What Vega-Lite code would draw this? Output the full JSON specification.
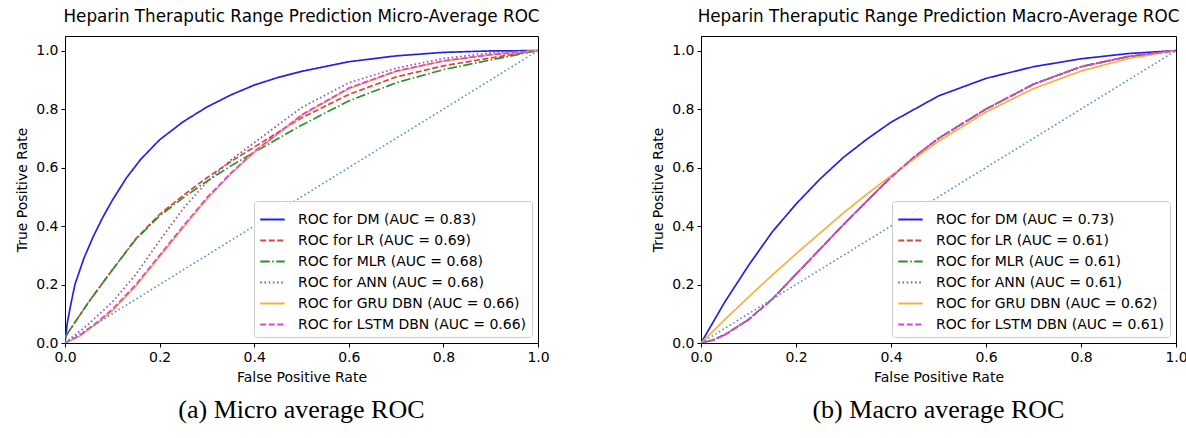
{
  "$schema": "https://vega.github.io/schema/vega-lite/v6.json",
  "background": "white",
  "padding": {"left": 15, "top": 8, "right": 0, "bottom": 4},
  "datasets": {
    "micro": [
      {"m":"DM","x":0,"y":0},{"m":"DM","x":0.005,"y":0.07},{"m":"DM","x":0.012,"y":0.13},{"m":"DM","x":0.021,"y":0.2},{"m":"DM","x":0.04,"y":0.29},{"m":"DM","x":0.06,"y":0.365},{"m":"DM","x":0.08,"y":0.43},{"m":"DM","x":0.1,"y":0.488},{"m":"DM","x":0.13,"y":0.565},{"m":"DM","x":0.16,"y":0.628},{"m":"DM","x":0.2,"y":0.695},{"m":"DM","x":0.25,"y":0.757},{"m":"DM","x":0.3,"y":0.807},{"m":"DM","x":0.35,"y":0.848},{"m":"DM","x":0.4,"y":0.882},{"m":"DM","x":0.45,"y":0.908},{"m":"DM","x":0.5,"y":0.929},{"m":"DM","x":0.6,"y":0.962},{"m":"DM","x":0.7,"y":0.982},{"m":"DM","x":0.8,"y":0.994},{"m":"DM","x":0.9,"y":0.999},{"m":"DM","x":1,"y":1},
      {"m":"LR","x":0,"y":0.02},{"m":"LR","x":0.05,"y":0.14},{"m":"LR","x":0.1,"y":0.25},{"m":"LR","x":0.15,"y":0.357},{"m":"LR","x":0.2,"y":0.44},{"m":"LR","x":0.25,"y":0.505},{"m":"LR","x":0.3,"y":0.565},{"m":"LR","x":0.35,"y":0.62},{"m":"LR","x":0.4,"y":0.67},{"m":"LR","x":0.5,"y":0.77},{"m":"LR","x":0.6,"y":0.85},{"m":"LR","x":0.7,"y":0.91},{"m":"LR","x":0.8,"y":0.948},{"m":"LR","x":0.9,"y":0.975},{"m":"LR","x":1,"y":1},
      {"m":"MLR","x":0,"y":0.02},{"m":"MLR","x":0.05,"y":0.14},{"m":"MLR","x":0.1,"y":0.25},{"m":"MLR","x":0.15,"y":0.355},{"m":"MLR","x":0.2,"y":0.435},{"m":"MLR","x":0.25,"y":0.497},{"m":"MLR","x":0.3,"y":0.553},{"m":"MLR","x":0.35,"y":0.605},{"m":"MLR","x":0.4,"y":0.652},{"m":"MLR","x":0.5,"y":0.745},{"m":"MLR","x":0.6,"y":0.828},{"m":"MLR","x":0.7,"y":0.89},{"m":"MLR","x":0.8,"y":0.935},{"m":"MLR","x":0.9,"y":0.968},{"m":"MLR","x":1,"y":1},
      {"m":"ANN","x":0,"y":0},{"m":"ANN","x":0.05,"y":0.065},{"m":"ANN","x":0.1,"y":0.14},{"m":"ANN","x":0.15,"y":0.235},{"m":"ANN","x":0.2,"y":0.35},{"m":"ANN","x":0.25,"y":0.46},{"m":"ANN","x":0.3,"y":0.55},{"m":"ANN","x":0.35,"y":0.625},{"m":"ANN","x":0.4,"y":0.685},{"m":"ANN","x":0.5,"y":0.805},{"m":"ANN","x":0.6,"y":0.89},{"m":"ANN","x":0.7,"y":0.94},{"m":"ANN","x":0.8,"y":0.973},{"m":"ANN","x":0.9,"y":0.992},{"m":"ANN","x":1,"y":1},
      {"m":"GRU","x":0,"y":0},{"m":"GRU","x":0.03,"y":0.022},{"m":"GRU","x":0.067,"y":0.066},{"m":"GRU","x":0.1,"y":0.11},{"m":"GRU","x":0.15,"y":0.195},{"m":"GRU","x":0.2,"y":0.295},{"m":"GRU","x":0.25,"y":0.395},{"m":"GRU","x":0.3,"y":0.492},{"m":"GRU","x":0.35,"y":0.577},{"m":"GRU","x":0.4,"y":0.652},{"m":"GRU","x":0.5,"y":0.778},{"m":"GRU","x":0.6,"y":0.87},{"m":"GRU","x":0.7,"y":0.929},{"m":"GRU","x":0.8,"y":0.964},{"m":"GRU","x":0.9,"y":0.986},{"m":"GRU","x":1,"y":1},
      {"m":"LSTM","x":0,"y":0},{"m":"LSTM","x":0.03,"y":0.025},{"m":"LSTM","x":0.067,"y":0.07},{"m":"LSTM","x":0.1,"y":0.115},{"m":"LSTM","x":0.15,"y":0.2},{"m":"LSTM","x":0.2,"y":0.3},{"m":"LSTM","x":0.25,"y":0.4},{"m":"LSTM","x":0.3,"y":0.497},{"m":"LSTM","x":0.35,"y":0.58},{"m":"LSTM","x":0.4,"y":0.655},{"m":"LSTM","x":0.5,"y":0.78},{"m":"LSTM","x":0.6,"y":0.872},{"m":"LSTM","x":0.7,"y":0.93},{"m":"LSTM","x":0.8,"y":0.965},{"m":"LSTM","x":0.9,"y":0.986},{"m":"LSTM","x":1,"y":1}
    ],
    "macro": [
      {"m":"DM","x":0,"y":0},{"m":"DM","x":0.05,"y":0.14},{"m":"DM","x":0.1,"y":0.265},{"m":"DM","x":0.15,"y":0.38},{"m":"DM","x":0.2,"y":0.475},{"m":"DM","x":0.25,"y":0.56},{"m":"DM","x":0.3,"y":0.635},{"m":"DM","x":0.35,"y":0.698},{"m":"DM","x":0.4,"y":0.755},{"m":"DM","x":0.5,"y":0.845},{"m":"DM","x":0.6,"y":0.905},{"m":"DM","x":0.7,"y":0.945},{"m":"DM","x":0.8,"y":0.972},{"m":"DM","x":0.9,"y":0.99},{"m":"DM","x":1,"y":1},
      {"m":"LR","x":0,"y":0},{"m":"LR","x":0.025,"y":0.01},{"m":"LR","x":0.05,"y":0.028},{"m":"LR","x":0.1,"y":0.08},{"m":"LR","x":0.15,"y":0.15},{"m":"LR","x":0.2,"y":0.235},{"m":"LR","x":0.25,"y":0.32},{"m":"LR","x":0.3,"y":0.405},{"m":"LR","x":0.35,"y":0.487},{"m":"LR","x":0.4,"y":0.567},{"m":"LR","x":0.45,"y":0.638},{"m":"LR","x":0.5,"y":0.7},{"m":"LR","x":0.6,"y":0.8},{"m":"LR","x":0.7,"y":0.885},{"m":"LR","x":0.8,"y":0.945},{"m":"LR","x":0.9,"y":0.98},{"m":"LR","x":1,"y":1},
      {"m":"MLR","x":0,"y":0},{"m":"MLR","x":0.025,"y":0.01},{"m":"MLR","x":0.05,"y":0.028},{"m":"MLR","x":0.1,"y":0.08},{"m":"MLR","x":0.15,"y":0.15},{"m":"MLR","x":0.2,"y":0.235},{"m":"MLR","x":0.25,"y":0.32},{"m":"MLR","x":0.3,"y":0.405},{"m":"MLR","x":0.35,"y":0.487},{"m":"MLR","x":0.4,"y":0.567},{"m":"MLR","x":0.45,"y":0.638},{"m":"MLR","x":0.5,"y":0.7},{"m":"MLR","x":0.6,"y":0.8},{"m":"MLR","x":0.7,"y":0.885},{"m":"MLR","x":0.8,"y":0.945},{"m":"MLR","x":0.9,"y":0.98},{"m":"MLR","x":1,"y":1},
      {"m":"ANN","x":0,"y":0},{"m":"ANN","x":0.025,"y":0.01},{"m":"ANN","x":0.05,"y":0.028},{"m":"ANN","x":0.1,"y":0.08},{"m":"ANN","x":0.15,"y":0.15},{"m":"ANN","x":0.2,"y":0.235},{"m":"ANN","x":0.25,"y":0.32},{"m":"ANN","x":0.3,"y":0.405},{"m":"ANN","x":0.35,"y":0.487},{"m":"ANN","x":0.4,"y":0.567},{"m":"ANN","x":0.45,"y":0.638},{"m":"ANN","x":0.5,"y":0.7},{"m":"ANN","x":0.6,"y":0.8},{"m":"ANN","x":0.7,"y":0.885},{"m":"ANN","x":0.8,"y":0.945},{"m":"ANN","x":0.9,"y":0.98},{"m":"ANN","x":1,"y":1},
      {"m":"GRU","x":0,"y":0},{"m":"GRU","x":0.05,"y":0.08},{"m":"GRU","x":0.1,"y":0.157},{"m":"GRU","x":0.15,"y":0.232},{"m":"GRU","x":0.2,"y":0.305},{"m":"GRU","x":0.25,"y":0.375},{"m":"GRU","x":0.3,"y":0.445},{"m":"GRU","x":0.35,"y":0.51},{"m":"GRU","x":0.4,"y":0.572},{"m":"GRU","x":0.5,"y":0.69},{"m":"GRU","x":0.6,"y":0.79},{"m":"GRU","x":0.7,"y":0.87},{"m":"GRU","x":0.8,"y":0.93},{"m":"GRU","x":0.9,"y":0.973},{"m":"GRU","x":1,"y":1},
      {"m":"LSTM","x":0,"y":0},{"m":"LSTM","x":0.025,"y":0.01},{"m":"LSTM","x":0.05,"y":0.028},{"m":"LSTM","x":0.1,"y":0.08},{"m":"LSTM","x":0.15,"y":0.15},{"m":"LSTM","x":0.2,"y":0.235},{"m":"LSTM","x":0.25,"y":0.32},{"m":"LSTM","x":0.3,"y":0.405},{"m":"LSTM","x":0.35,"y":0.487},{"m":"LSTM","x":0.4,"y":0.567},{"m":"LSTM","x":0.45,"y":0.638},{"m":"LSTM","x":0.5,"y":0.7},{"m":"LSTM","x":0.6,"y":0.8},{"m":"LSTM","x":0.7,"y":0.885},{"m":"LSTM","x":0.8,"y":0.945},{"m":"LSTM","x":0.9,"y":0.98},{"m":"LSTM","x":1,"y":1}
    ],
    "labelsMicro": [
      {"m":"DM","label":"ROC for DM (AUC = 0.83)"},
      {"m":"LR","label":"ROC for LR (AUC = 0.69)"},
      {"m":"MLR","label":"ROC for MLR (AUC = 0.68)"},
      {"m":"ANN","label":"ROC for ANN (AUC = 0.68)"},
      {"m":"GRU","label":"ROC for GRU DBN (AUC = 0.66)"},
      {"m":"LSTM","label":"ROC for LSTM DBN (AUC = 0.66)"}
    ],
    "labelsMacro": [
      {"m":"DM","label":"ROC for DM (AUC = 0.73)"},
      {"m":"LR","label":"ROC for LR (AUC = 0.61)"},
      {"m":"MLR","label":"ROC for MLR (AUC = 0.61)"},
      {"m":"ANN","label":"ROC for ANN (AUC = 0.61)"},
      {"m":"GRU","label":"ROC for GRU DBN (AUC = 0.62)"},
      {"m":"LSTM","label":"ROC for LSTM DBN (AUC = 0.61)"}
    ],
    "diag": [{"x":0,"y":0},{"x":1,"y":1}]
  },
  "spacing": 101,
  "resolve": {"scale": {"color": "independent", "strokeDash": "independent", "x": "independent", "y": "independent"}, "legend": {"color": "independent", "strokeDash": "independent"}},
  "hconcat": [
    {
      "title": {"text": "(a) Micro average ROC", "orient": "bottom", "font": "Liberation Serif", "fontSize": 26, "fontWeight": "normal", "offset": 12, "dx": 19},
      "resolve": {"scale": {"color": "independent", "strokeDash": "independent"}, "legend": {"color": "independent", "strokeDash": "independent"}},
      "vconcat": [
        {
          "title": {"text": "Heparin Theraputic Range Prediction Micro-Average ROC"},
          "width": 473,
          "height": 307,
          "layer": [
            {
              "data": {"name": "micro"},
              "transform": [{"lookup": "m", "from": {"data": {"name": "labelsMicro"}, "key": "m", "fields": ["label"]}}],
              "mark": {"type": "line", "strokeWidth": 1.7, "clip": true},
              "encoding": {
                "x": {"field": "x", "type": "quantitative", "scale": {"domain": [0, 1], "nice": false, "zero": false}, "axis": {"values": [0, 0.2, 0.4, 0.6, 0.8, 1], "format": ".1f", "title": "False Positive Rate"}},
                "y": {"field": "y", "type": "quantitative", "scale": {"domain": [0, 1.05], "nice": false}, "axis": {"values": [0, 0.2, 0.4, 0.6, 0.8, 1], "format": ".1f", "title": "True Positive Rate"}},
                "color": {"field": "label", "type": "nominal", "scale": {"domain": ["ROC for DM (AUC = 0.83)", "ROC for LR (AUC = 0.69)", "ROC for MLR (AUC = 0.68)", "ROC for ANN (AUC = 0.68)", "ROC for GRU DBN (AUC = 0.66)", "ROC for LSTM DBN (AUC = 0.66)"], "range": ["#2424e0", "#d9443f", "#2e8f2e", "#9b4fae", "#f6b042", "#e040e0"]}, "legend": {"title": null}},
                "strokeDash": {"field": "label", "type": "nominal", "scale": {"domain": ["ROC for DM (AUC = 0.83)", "ROC for LR (AUC = 0.69)", "ROC for MLR (AUC = 0.68)", "ROC for ANN (AUC = 0.68)", "ROC for GRU DBN (AUC = 0.66)", "ROC for LSTM DBN (AUC = 0.66)"], "range": [[1, 0], [6, 2.5], [9.5, 2.5, 1.5, 2.5], [1.6, 2.6], [1, 0], [6, 2.5]]}, "legend": {"title": null}}
              }
            },
            {
              "data": {"name": "diag"},
              "mark": {"type": "line", "color": "#4f93c4", "strokeWidth": 1.6, "strokeDash": [1.6, 2.6]},
              "encoding": {
                "x": {"field": "x", "type": "quantitative"},
                "y": {"field": "y", "type": "quantitative"}
              }
            }
          ]
        }
      ]
    },
    {
      "title": {"text": "(b) Macro average ROC", "orient": "bottom", "font": "Liberation Serif", "fontSize": 26, "fontWeight": "normal", "offset": 12, "dx": 19},
      "resolve": {"scale": {"color": "independent", "strokeDash": "independent"}, "legend": {"color": "independent", "strokeDash": "independent"}},
      "vconcat": [
        {
          "title": {"text": "Heparin Theraputic Range Prediction Macro-Average ROC"},
          "width": 475,
          "height": 307,
          "layer": [
            {
              "data": {"name": "macro"},
              "transform": [{"lookup": "m", "from": {"data": {"name": "labelsMacro"}, "key": "m", "fields": ["label"]}}],
              "mark": {"type": "line", "strokeWidth": 1.7, "clip": true},
              "encoding": {
                "x": {"field": "x", "type": "quantitative", "scale": {"domain": [0, 1], "nice": false, "zero": false}, "axis": {"values": [0, 0.2, 0.4, 0.6, 0.8, 1], "format": ".1f", "title": "False Positive Rate"}},
                "y": {"field": "y", "type": "quantitative", "scale": {"domain": [0, 1.05], "nice": false}, "axis": {"values": [0, 0.2, 0.4, 0.6, 0.8, 1], "format": ".1f", "title": "True Positive Rate"}},
                "color": {"field": "label", "type": "nominal", "scale": {"domain": ["ROC for DM (AUC = 0.73)", "ROC for LR (AUC = 0.61)", "ROC for MLR (AUC = 0.61)", "ROC for ANN (AUC = 0.61)", "ROC for GRU DBN (AUC = 0.62)", "ROC for LSTM DBN (AUC = 0.61)"], "range": ["#2424e0", "#d9443f", "#2e8f2e", "#9b4fae", "#f6b042", "#e040e0"]}, "legend": {"title": null}},
                "strokeDash": {"field": "label", "type": "nominal", "scale": {"domain": ["ROC for DM (AUC = 0.73)", "ROC for LR (AUC = 0.61)", "ROC for MLR (AUC = 0.61)", "ROC for ANN (AUC = 0.61)", "ROC for GRU DBN (AUC = 0.62)", "ROC for LSTM DBN (AUC = 0.61)"], "range": [[1, 0], [6, 2.5], [9.5, 2.5, 1.5, 2.5], [1.6, 2.6], [1, 0], [6, 2.5]]}, "legend": {"title": null}}
              }
            },
            {
              "data": {"name": "diag"},
              "mark": {"type": "line", "color": "#4f93c4", "strokeWidth": 1.6, "strokeDash": [1.6, 2.6]},
              "encoding": {
                "x": {"field": "x", "type": "quantitative"},
                "y": {"field": "y", "type": "quantitative"}
              }
            }
          ]
        }
      ]
    }
  ],
  "config": {
    "font": "DejaVu Sans",
    "view": {"stroke": "black", "strokeWidth": 1},
    "axis": {"grid": false, "domainColor": "black", "tickColor": "black", "labelColor": "black", "titleColor": "black", "labelFont": "DejaVu Sans", "titleFont": "DejaVu Sans", "labelFontSize": 14, "titleFontSize": 14, "titleFontWeight": "normal", "tickSize": 4, "labelPadding": 3, "titlePadding": 6, "labelBound": false, "labelFlush": false, "labelOverlap": false},
    "title": {"font": "DejaVu Sans", "fontSize": 16.8, "fontWeight": "normal", "color": "black", "anchor": "middle", "offset": 10},
    "legend": {"orient": "bottom-right", "offset": 6, "symbolType": "stroke", "symbolSize": 600, "symbolStrokeWidth": 2, "labelFont": "DejaVu Sans", "labelFontSize": 14, "labelColor": "black", "labelLimit": 0, "labelOffset": 12, "padding": 5, "rowPadding": 0, "strokeColor": "#cccccc", "fillColor": "rgba(255,255,255,0.85)", "cornerRadius": 3}
  }
}
